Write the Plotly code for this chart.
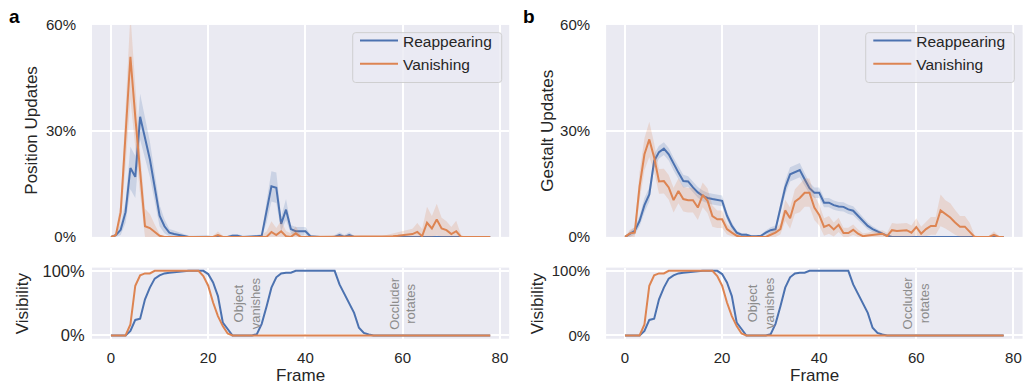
import plotly.graph_objects as go

# ---------------- data (percent) ----------------
frames = list(range(79))

pos_reappearing = [
    0, 0.5, 2, 7, 19.5, 17, 34, 28, 22, 14,
    6, 3, 1.2, 0.8, 0.5, 0.3, 0, 0, 0, 0.2,
    0.2, 0, 0, 0, 0, 0.3, 0.3, 0, 0, 0,
    0.2, 0.3, 7, 14.3, 13.9, 3.7, 7.7, 2.2, 1.6, 1.6,
    1.6, 0.2, 0, 0, 0, 0, 0, 0.5, 0, 0.5,
    0, 0, 0, 0, 0, 0, 0, 0, 0, 0,
    0, 0, 0, 0, 0, 0, 0, 0, 0, 0,
    0, 0, 0, 0, 0, 0, 0, 0, 0]
pos_reappearing_ci = [
    0, 0.5, 1.5, 3, 6, 6, 6.5, 6, 5, 4,
    3, 2, 1, 1, 0.8, 0.5, 0.3, 0.3, 0.3, 0.3,
    0.3, 0, 0, 0, 0.3, 0.5, 0.5, 0.3, 0, 0.3,
    0.3, 0.5, 3, 4.3, 4.3, 2, 3, 1.2, 1.2, 1.2,
    1.2, 0.5, 0, 0, 0, 0, 0.5, 0.8, 0.5, 0.8,
    0.3, 0, 0, 0, 0, 0, 0, 0, 0, 0,
    0, 0, 0, 0, 0, 0, 0, 0, 0, 0,
    0, 0, 0, 0, 0, 0, 0, 0, 0]

pos_vanishing = [
    0, 0.5, 7, 28, 51, 34, 18, 3, 2.5, 1.5,
    0.3, 0, 0, 0, 0, 0, 0, 0, 0, 0,
    0, 0, 0.5, 0, 0, 0, 0, 0, 0, 0,
    0, 0, 0, 1.4, 0.5, 1.6, 0.2, 0, 1, 0,
    0, 0, 0, 0, 0, 0, 0, 0, 0, 0,
    0, 0, 0, 0, 0, 0, 0, 0.1, 0.2, 0.3,
    0.4, 0.5, 0.8, 1.4, 0.2, 4, 2.4, 4.9, 2.4, 1.9,
    0.8, 1.6, 0, 0, 0, 0, 0, 0, 0]
pos_vanishing_ci = [
    0, 0.5, 3, 8, 12, 9, 6, 5, 4, 2,
    0.5, 0, 0, 0, 0, 0, 0, 0, 0, 0,
    0, 0.3, 1, 0.3, 0, 0, 0, 0, 0, 0,
    0, 0.5, 1.5, 3, 2, 3, 1.5, 1, 2, 0.5,
    0, 0, 0, 0, 0, 0, 0, 0, 0, 0,
    0, 0, 0, 0, 0, 0, 0.3, 0.5, 0.8, 1,
    1.2, 1.5, 1.5, 2.5, 2, 4.5, 3.5, 4.5, 3, 2.5,
    2, 3, 0.5, 0, 0, 0, 0, 0, 0]

gestalt_reappearing = [
    0, 0.8, 1.7, 4.5, 9, 12, 21.5, 24, 25, 23.4,
    20.6, 18.2, 15.8, 15.7, 14, 12.6, 11.6, 11, 10.7, 10.5,
    10.2, 6, 3.1, 1.2, 0.6, 0.6, 0.2, 0.2, 0.3, 1.2,
    1.9, 2.2, 8.3, 14, 17.7, 18.2, 18.9, 16.3, 13.8, 12.5,
    12.5, 9.7, 9.7, 9, 8.6, 8.5, 7.8, 7.4, 5.9, 4.5,
    3.1, 2.2, 1.5, 0.8, 0.3, 0, 0, 0, 0, 0,
    0, 0, 0, 0, 0, 0, 0, 0, 0, 0.1,
    0.1, 0, 0, 0, 0, 0, 0, 0, 0]
gestalt_reappearing_ci = [
    0, 0.8, 1, 1.5, 2, 2, 2, 1.8, 1.8, 1.8,
    1.8, 1.8, 1.8, 1.5, 1.5, 1.5, 1.5, 1.5, 1.5, 1.5,
    1.5, 1.2, 1, 0.6, 0.4, 0.4, 0.2, 0.2, 0.3, 0.6,
    0.8, 1, 1.5, 2, 2, 2, 2, 1.8, 1.6, 1.5,
    1.5, 1.3, 1.3, 1.3, 1.3, 1.3, 1.3, 1.3, 1.2, 1.1,
    1, 0.8, 0.6, 0.4, 0.2, 0, 0, 0, 0, 0,
    0, 0, 0, 0, 0, 0, 0, 0, 0, 0.1,
    0.1, 0, 0, 0, 0, 0, 0, 0, 0]

gestalt_vanishing = [
    0, 1, 1.2, 14.4, 23.4, 27.6, 22.5, 15.7, 15.8, 14,
    10.4, 13, 10.7, 10.4, 10.4, 8.3, 11.9, 10.2, 5.9, 5,
    5, 2.2, 1.2, 0.3, 0, 0, 0.1, 0, 0.2, 0,
    0.6, 1.2, 2.2, 7.5, 5.3, 10, 11, 12.5, 12.5, 8.3,
    6.2, 2.8, 3.4, 2.1, 3.4, 1.1, 1.1, 2, 0.9, 0.2,
    0.4, 0.6, 0.6, 0.9, 0.2, 1.9, 1.7, 1.7, 1.9, 1.2,
    2.8, 0.9, 2.2, 3.1, 3.1, 7.5, 6.4, 5.5, 4.1, 2.9,
    2.9, 1.5, 0, 0, 0, 0, 0.6, 0, 0]
gestalt_vanishing_ci = [
    0, 1, 1.5, 4, 4.5, 5, 4, 3.5, 3.5, 3.5,
    3.5, 3.5, 3.5, 3.5, 3.5, 3.5, 3.5, 3.5, 3, 2.5,
    2.5, 1.5, 1, 0.5, 0.3, 0.3, 0.3, 0.3, 0.3, 0.3,
    0.8, 1.2, 1.5, 3, 3, 3.5, 4, 4, 4, 3.5,
    3, 2.5, 2.5, 2, 2, 1.5, 1.5, 1.5, 1.2, 0.8,
    0.8, 1, 1, 1, 1, 2, 2, 2, 2, 2,
    2.5, 2, 2, 2.5, 2.5, 4.5, 4, 4, 3.5, 3,
    3, 2.5, 0.5, 0, 0, 0.3, 1, 0.3, 0]

visibility_reappearing = [
    0, 0, 0, 0, 7, 24, 26, 56, 74, 88,
    93, 96, 97, 98, 99, 100, 100, 100, 100, 100,
    95, 82, 61, 20, 10, 0, 0, 0, 0, 0,
    2, 18, 45, 74, 90, 96, 97, 97, 100, 100,
    100, 100, 100, 100, 100, 100, 100, 79, 64, 51,
    35, 12, 4, 1.5, 0, 0, 0, 0, 0, 0,
    0, 0, 0, 0, 0, 0, 0, 0, 0, 0,
    0, 0, 0, 0, 0, 0, 0, 0, 0]
visibility_vanishing = [
    0, 0, 0, 0, 17, 77, 93, 96, 96, 100,
    100, 100, 100, 100, 100, 100, 100, 100, 100, 92,
    77, 51, 30, 14.5, 3, 0, 0, 0, 0, 0,
    0, 0, 0, 0, 0, 0, 0, 0, 0, 0,
    0, 0, 0, 0, 0, 0, 0, 0, 0, 0,
    0, 0, 0, 0, 0, 0, 0, 0, 0, 0,
    0, 0, 0, 0, 0, 0, 0, 0, 0, 0,
    0, 0, 0, 0, 0, 0, 0, 0, 0]

series_names = ["Reappearing", "Vanishing"]
x_ticks = [0, 20, 40, 60, 80]
top_ticks = [0, 30, 60]
top_ticktext = ["0%", "30%", "60%"]
bottom_ticks = [0, 100]
bottom_ticktext = ["0%", "100%"]

# ---------------- style ----------------
W, H = 1024, 389
TOP_OFF, PH = 8, 373          # observed drawing band of the page in the viewer
BLUE, ORANGE = "#4C72B0", "#DD8452"
BLUE_FILL, ORANGE_FILL = "rgba(76,114,176,0.2)", "rgba(221,132,82,0.2)"
BG = "#EAEAF2"
TXT = "#262626"
FONT = "Liberation Sans, Arial, sans-serif"


def fx(p):
    return p / W


def fy(p):
    return 1 - (p - TOP_OFF) / PH


fig = go.Figure()


def add_series(xa, ya, mean, ci, color, fill, name, legend, showlegend):
    if ci is not None:
        lower = [max(m - c, 0) for m, c in zip(mean, ci)]
        upper = [m + c for m, c in zip(mean, ci)]
        fig.add_trace(go.Scatter(x=frames, y=lower, xaxis=xa, yaxis=ya, mode="lines",
                                 line=dict(width=0, color=fill), showlegend=False,
                                 hoverinfo="skip"))
        fig.add_trace(go.Scatter(x=frames, y=upper, xaxis=xa, yaxis=ya, mode="lines",
                                 line=dict(width=0, color=fill), fill="tonexty",
                                 fillcolor=fill, showlegend=False, hoverinfo="skip"))
    fig.add_trace(go.Scatter(x=frames, y=mean, xaxis=xa, yaxis=ya, mode="lines",
                             line=dict(color=color, width=2), name=name,
                             legend=legend, showlegend=showlegend))


add_series("x", "y", pos_reappearing, pos_reappearing_ci, BLUE, BLUE_FILL, series_names[0], "legend", True)
add_series("x", "y", pos_vanishing, pos_vanishing_ci, ORANGE, ORANGE_FILL, series_names[1], "legend", True)
add_series("x2", "y2", gestalt_reappearing, gestalt_reappearing_ci, BLUE, BLUE_FILL, series_names[0], "legend2", True)
add_series("x2", "y2", gestalt_vanishing, gestalt_vanishing_ci, ORANGE, ORANGE_FILL, series_names[1], "legend2", True)
add_series("x3", "y3", visibility_reappearing, None, BLUE, None, series_names[0], "legend", False)
add_series("x3", "y3", visibility_vanishing, None, ORANGE, None, series_names[1], "legend", False)
add_series("x4", "y4", visibility_reappearing, None, BLUE, None, series_names[0], "legend", False)
add_series("x4", "y4", visibility_vanishing, None, ORANGE, None, series_names[1], "legend", False)

xL = [fx(92), fx(509.2)]
xR = [fx(606.1), fx(1022.6)]
yTop = [fy(236.5), fy(24)]
yBot = [fy(338.6), fy(267.3)]

xcommon = dict(range=[-3.9, 81.9], tickvals=x_ticks, showgrid=True, gridcolor="white",
               gridwidth=1.5, zeroline=False, showline=False, fixedrange=True)
xtop = dict(xcommon, showticklabels=False, ticks="")
xbot = dict(xcommon, showticklabels=True, ticks="outside", ticklen=5,
            tickcolor="rgba(0,0,0,0)", tickfont=dict(size=15, color=TXT, family=FONT))
ytop = dict(range=[0, 60], tickvals=top_ticks, ticktext=top_ticktext, showgrid=True,
            gridcolor="white", gridwidth=1.5, zeroline=False, showline=False,
            ticks="outside", ticklen=12, tickcolor="rgba(0,0,0,0)", fixedrange=True,
            tickfont=dict(size=15, color=TXT, family=FONT))
ybot = dict(ytop, range=[-5, 105], tickvals=bottom_ticks, ticktext=bottom_ticktext)
ybot_left = dict(ybot, ticklen=3, tickfont=dict(size=16.5, color=TXT, family=FONT))

legend_common = dict(xanchor="left", yanchor="top", bgcolor="rgba(0,0,0,0)",
                     borderwidth=0, traceorder="normal", itemwidth=38,
                     font=dict(size=15.5, color=TXT, family=FONT))

fig.update_layout(
    width=W, height=H, autosize=False,
    margin=dict(l=0, r=0, t=0, b=0, pad=0),
    paper_bgcolor="white", plot_bgcolor=BG,
    font=dict(family=FONT, color=TXT),
    xaxis=dict(xtop, domain=xL, anchor="y"),
    yaxis=dict(ytop, domain=yTop, anchor="x"),
    xaxis2=dict(xtop, domain=xR, anchor="y2"),
    yaxis2=dict(ytop, domain=yTop, anchor="x2"),
    xaxis3=dict(xbot, domain=xL, anchor="y3"),
    yaxis3=dict(ybot_left, domain=yBot, anchor="x3"),
    xaxis4=dict(xbot, domain=xR, anchor="y4"),
    yaxis4=dict(ybot, domain=yBot, anchor="x4"),
    legend=dict(legend_common, x=fx(355), y=fy(23)),
    legend2=dict(legend_common, x=fx(868.3), y=fy(23)),
    showlegend=True,
)


def rounded_box(x0, y0, x1, y1, r=3):
    rx, ry = r / W, r / PH
    X0, X1 = fx(x0), fx(x1)
    Yt, Yb = fy(y0), fy(y1)
    return (f"M {X0 + rx},{Yt} L {X1 - rx},{Yt} Q {X1},{Yt} {X1},{Yt - ry} "
            f"L {X1},{Yb + ry} Q {X1},{Yb} {X1 - rx},{Yb} L {X0 + rx},{Yb} "
            f"Q {X0},{Yb} {X0},{Yb + ry} L {X0},{Yt - ry} Q {X0},{Yt} {X0 + rx},{Yt} Z")


shapes = []
for bx0, bx1 in [(352.7, 501.7), (865.7, 1014.3)]:
    shapes.append(dict(type="path", xref="paper", yref="paper", layer="above",
                       path=rounded_box(bx0, 31.7, bx1, 81.7),
                       fillcolor="rgba(234,234,242,0.8)",
                       line=dict(color="rgba(204,204,204,0.9)", width=1)))
fig.update_layout(shapes=shapes)

ann = []
# panel letters
ann.append(dict(text="<b>a</b>", x=fx(14), y=fy(16), xref="paper", yref="paper",
                xanchor="center", yanchor="middle",
                showarrow=False, font=dict(size=19, color="black", family=FONT)))
ann.append(dict(text="<b>b</b>", x=fx(529), y=fy(16), xref="paper", yref="paper",
                xanchor="center", yanchor="middle",
                showarrow=False, font=dict(size=19, color="black", family=FONT)))
# axis titles
for txt, x, y, ang in [("Position Updates", 32, 130, -90), ("Gestalt Updates", 548, 130, -90),
                       ("Visibility", 22, 303, -90), ("Visibility", 537, 303, -90),
                       ("Frame", 300.6, 375, 0), ("Frame", 814.3, 375, 0)]:
    ann.append(dict(text=txt, x=fx(x), y=fy(y), xref="paper", yref="paper", textangle=ang,
                    showarrow=False, xanchor="center", yanchor="middle",
                    font=dict(size=17, color=TXT, family=FONT)))
# event markers
for xr, yr in [("x3", "y3"), ("x4", "y4")]:
    for txt, xv in [("Object<br>vanishes", 28), ("Occluder<br>rotates", 60)]:
        ann.append(dict(text=txt, x=xv, y=50, xref=xr, yref=yr, textangle=-90,
                        showarrow=False, xanchor="center", yanchor="middle",
                        font=dict(size=13, color="#8c8c8c", family=FONT)))
fig.update_layout(annotations=ann)

fig.write_html("out.html", config={"displayModeBar": False})
